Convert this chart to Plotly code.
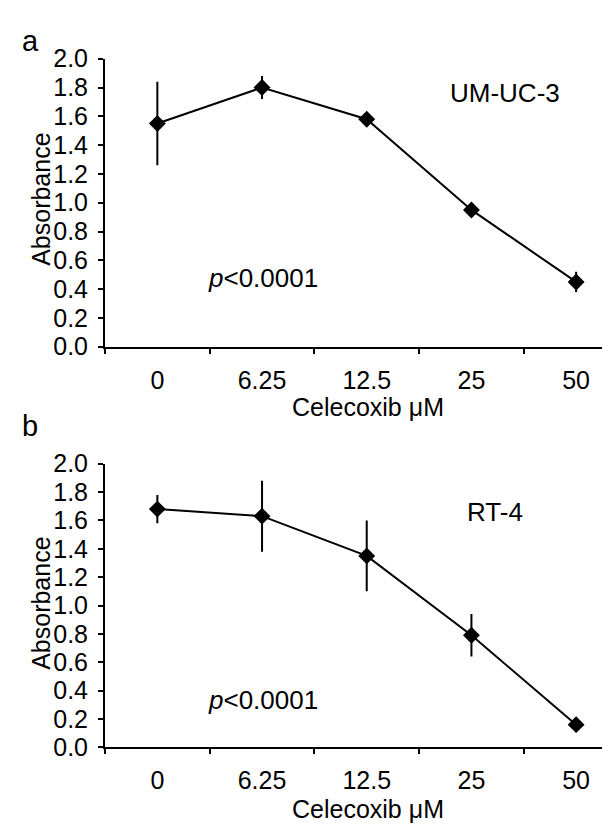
import plotly.graph_objects as go

W, H = 610, 836

doses = ["0", "6.25", "12.5", "25", "50"]
umuc3_mean = [1.55, 1.80, 1.58, 0.95, 0.45]
umuc3_err = [0.29, 0.08, 0.02, 0.03, 0.07]
rt4_mean = [1.68, 1.63, 1.35, 0.79, 0.16]
rt4_err = [0.10, 0.25, 0.25, 0.15, 0.01]
y_ticks = [0.0, 0.2, 0.4, 0.6, 0.8, 1.0, 1.2, 1.4, 1.6, 1.8, 2.0]

FONT = "Liberation Sans, Arial, sans-serif"

def px_x(p):
    return p / W

def px_y(p):
    return 1 - p / H

fig = go.Figure()

for mean, err, xa, ya in [(umuc3_mean, umuc3_err, "x", "y"), (rt4_mean, rt4_err, "x2", "y2")]:
    fig.add_trace(go.Scatter(
        x=doses, y=mean, mode="lines+markers",
        line=dict(color="black", width=2),
        marker=dict(symbol="diamond", size=13, color="black"),
        error_y=dict(type="data", array=err, visible=True, color="black", thickness=2, width=0),
        xaxis=xa, yaxis=ya, showlegend=False, cliponaxis=False,
    ))

xaxis_common = dict(
    type="category", categoryorder="array", categoryarray=doses,
    range=[-0.5, 4.4], domain=[px_x(97), 1.0],
    showline=True, linecolor="black", linewidth=2,
    ticks="outside", tickson="boundaries", ticklen=5, tickwidth=1.5, tickcolor="black",
    ticklabelstandoff=10,
    showgrid=False, zeroline=False,
    tickfont=dict(family=FONT, size=25, color="black"),
)
yaxis_common = dict(
    range=[0, 2.0], tickvals=y_ticks, ticktext=[f"{v:.1f}" for v in y_ticks],
    showline=True, linecolor="black", linewidth=2,
    ticks="outside", ticklen=5, tickwidth=1.5, tickcolor="black",
    ticklabelstandoff=5,
    showgrid=False, zeroline=False,
    tickfont=dict(family=FONT, size=25, color="black"),
)

fig.update_layout(
    width=W, height=H,
    margin=dict(l=0, r=0, t=0, b=0),
    paper_bgcolor="white", plot_bgcolor="white",
    xaxis=dict(**xaxis_common, anchor="y"),
    yaxis=dict(**yaxis_common, domain=[px_y(336), px_y(38)], anchor="x"),
    xaxis2=dict(**xaxis_common, anchor="y2"),
    yaxis2=dict(**yaxis_common, domain=[px_y(750.5), px_y(457)], anchor="x2"),
)

def ann(text, x, y, size, xanchor="center", textangle=0):
    fig.add_annotation(
        text=text, x=px_x(x), y=px_y(y), xref="paper", yref="paper",
        showarrow=False, xanchor=xanchor, yanchor="middle", textangle=textangle,
        font=dict(family=FONT, size=size, color="black"),
    )

# panel letters
ann("a", 12, 20, 29, xanchor="left")
ann("b", 12, 418, 29, xanchor="left")
# axis titles
ann("Celecoxib μM", 360, 398, 25)
ann("Celecoxib μM", 360, 814, 25)
ann("Absorbance", 33, 184, 25, textangle=-90)
ann("Absorbance", 33, 602, 25, textangle=-90)
# cell line labels
ann("UM-UC-3", 497, 73, 26)
ann("RT-4", 487, 507, 26)
# p-values
ann("<i>p</i><0.0001", 198, 265, 26, xanchor="left")
ann("<i>p</i><0.0001", 198, 702, 26, xanchor="left")

fig.write_html("out.html")
